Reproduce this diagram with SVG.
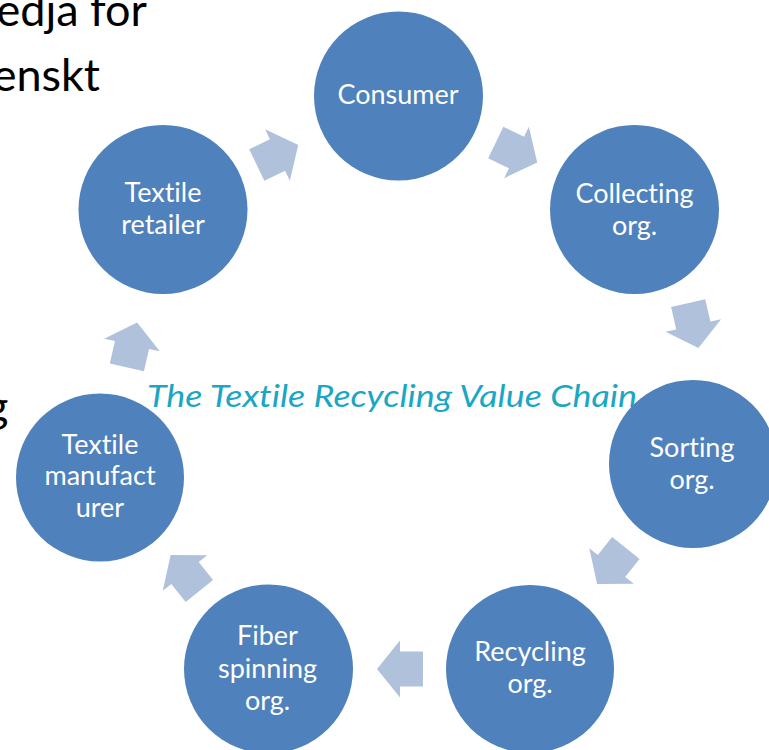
<svg xmlns="http://www.w3.org/2000/svg" width="769" height="750" viewBox="0 0 769 750">
<defs>
<style>
text{font-variant-ligatures:none;font-feature-settings:"liga" 0,"clig" 0;}
.node{fill:#4F81BD;}
.lbl{fill:#FFFFFF;font-family:Lato,"Open Sans","Liberation Sans",sans-serif;font-size:27px;text-anchor:middle;}
.arr{fill:#B0C1DC;}
.bg{fill:#000000;font-family:Lato,"Open Sans","Liberation Sans",sans-serif;font-size:45px;text-anchor:end;}
.title{fill:#1AA6C4;font-family:Lato,"Open Sans","Liberation Sans",sans-serif;font-style:italic;font-size:31px;}
</style>
<path id="blk" d="M-23,-17.5 L0,-17.5 L0,-28.5 L23,0 L0,28.5 L0,17.5 L-23,17.5 Z"/>
</defs>
<rect width="769" height="750" fill="#FFFFFF"/>
<g id="slide-text">
<text class="bg" x="147" y="26">edja for</text>
<text class="bg" x="100" y="90.5">enskt</text>
<text class="bg" x="8.5" y="421.5">g</text>
</g>
<text id="title" class="title" x="147" y="406.5" textLength="490" lengthAdjust="spacingAndGlyphs">The Textile Recycling Value Chain</text>
<g id="connectors" class="arr">
<use href="#blk" transform="translate(516.5,152.5) rotate(25.7)"/>
<use href="#blk" transform="translate(693.3,325.5) rotate(77.1)"/>
<use href="#blk" transform="translate(611.5,566) rotate(128.6)"/>
<use href="#blk" transform="translate(400,669) rotate(180)"/>
<use href="#blk" transform="translate(185,573) rotate(231.4)"/>
<use href="#blk" transform="translate(132,345) rotate(282.9)"/>
<use href="#blk" transform="translate(277.5,155) rotate(334.3)"/>
</g>
<g id="consumer">
<circle class="node" cx="398.5" cy="96" r="84.5"/>
<text class="lbl" x="398" y="104">Consumer</text>
</g>
<g id="collecting">
<circle class="node" cx="634.5" cy="209.5" r="84.5"/>
<text class="lbl" x="634.5" y="202.5">Collecting</text>
<text class="lbl" x="634.5" y="235">org.</text>
</g>
<g id="sorting">
<circle class="node" cx="693" cy="464" r="84"/>
<text class="lbl" x="692" y="456.5">Sorting</text>
<text class="lbl" x="692" y="488.5">org.</text>
</g>
<g id="recycling">
<circle class="node" cx="530" cy="669" r="84"/>
<text class="lbl" x="530" y="660.5">Recycling</text>
<text class="lbl" x="530" y="693">org.</text>
</g>
<g id="fiber-spinning">
<circle class="node" cx="268.5" cy="669" r="84.5"/>
<text class="lbl" x="267.5" y="645">Fiber</text>
<text class="lbl" x="267.5" y="677.5">spinning</text>
<text class="lbl" x="267.5" y="710">org.</text>
</g>
<g id="textile-manufacturer">
<circle class="node" cx="100" cy="477.5" r="84"/>
<text class="lbl" x="100" y="454">Textile</text>
<text class="lbl" x="100" y="485">manufact</text>
<text class="lbl" x="100" y="516.5">urer</text>
</g>
<g id="textile-retailer">
<circle class="node" cx="163" cy="209.5" r="84.5"/>
<text class="lbl" x="163" y="201.5">Textile</text>
<text class="lbl" x="163" y="233.5">retailer</text>
</g>
</svg>
